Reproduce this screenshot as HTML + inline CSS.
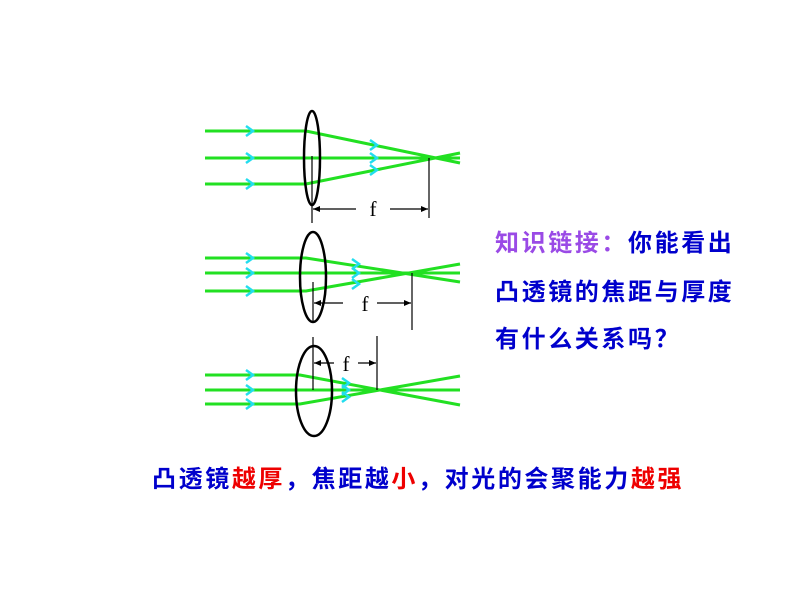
<!DOCTYPE html>
<html><head><meta charset="utf-8"><style>
body{margin:0;width:800px;height:600px;background:#fff;position:relative;overflow:hidden;font-family:"Liberation Sans","Noto Sans CJK SC",sans-serif}
.t{position:absolute;font-size:24px;font-weight:bold;letter-spacing:2.6px;color:#0000cc;white-space:nowrap;line-height:1}
.p{color:#9a4ae6}.r{color:#ee0000}
</style></head><body>
<svg width="800" height="600" style="position:absolute;left:0;top:0">
<defs>
<g id="ah"><path d="M-6,-5 L1,0 L-6,5" fill="none" stroke="#22ddee" stroke-width="2.5"/></g>
</defs>
<g stroke="#22e022" stroke-width="3" fill="none">
<path d="M205,131 L306,131 L460,163"/>
<path d="M205,158 L460,158"/>
<path d="M205,184 L306,184 L460,153"/>
<path d="M205,258 L306,258 L460,282"/>
<path d="M205,273 L460,273"/>
<path d="M205,291 L306,291 L460,264"/>
<path d="M205,375 L300,375 L460,405"/>
<path d="M205,390 L460,390"/>
<path d="M205,404 L300,404 L460,376"/>
</g>
<g>
<use href="#ah" x="252" y="131"/><use href="#ah" x="252" y="158"/><use href="#ah" x="252" y="184"/>
<use href="#ah" x="376" y="145"/><use href="#ah" x="376" y="158"/><use href="#ah" x="376" y="170"/>
<use href="#ah" x="252" y="258"/><use href="#ah" x="252" y="273"/><use href="#ah" x="252" y="291"/>
<use href="#ah" x="358" y="264"/><use href="#ah" x="358" y="273"/><use href="#ah" x="358" y="284"/>
<use href="#ah" x="252" y="375"/><use href="#ah" x="252" y="390"/><use href="#ah" x="252" y="404"/>
<use href="#ah" x="348" y="383"/><use href="#ah" x="348" y="390"/><use href="#ah" x="348" y="397"/>
</g>
<g fill="none" stroke="#000" stroke-width="2.5">
<ellipse cx="312" cy="158" rx="8" ry="47"/>
<ellipse cx="313" cy="277" rx="13" ry="45"/>
<ellipse cx="314" cy="391" rx="18" ry="45"/>
</g>
<g stroke="#000" stroke-width="1.2" fill="none">
<line x1="312" y1="156" x2="312" y2="223"/><line x1="429" y1="158" x2="429" y2="218"/>
<line x1="313" y1="282" x2="313" y2="323"/><line x1="412" y1="273" x2="412" y2="330"/>
<line x1="313" y1="337" x2="313" y2="390"/><line x1="377" y1="336" x2="377" y2="390"/>
<line x1="313" y1="209" x2="356" y2="209"/><line x1="390" y1="209" x2="428" y2="209"/>
<line x1="314" y1="303" x2="343" y2="303"/><line x1="377" y1="303" x2="411" y2="303"/>
<line x1="314" y1="363" x2="334" y2="363"/><line x1="358" y1="363" x2="376" y2="363"/>
</g>
<g fill="#000">
<path d="M313,209 l7,-3 v6z"/><path d="M428,209 l-7,-3 v6z"/>
<path d="M314,303 l7,-3 v6z"/><path d="M411,303 l-7,-3 v6z"/>
<path d="M314,363 l7,-3 v6z"/><path d="M376,363 l-7,-3 v6z"/>
</g>
<g font-family="Liberation Serif,serif" font-size="21" fill="#000" text-anchor="middle">
<text x="373" y="216">f</text><text x="365" y="311">f</text><text x="346" y="371">f</text>
</g>
</svg>
<div class="t" style="left:495px;top:232px"><span class="p">知识链接：</span>你能看出</div>
<div class="t" style="left:495px;top:281px">凸透镜的焦距与厚度</div>
<div class="t" style="left:495px;top:328px">有什么关系吗？</div>
<div class="t" style="left:152px;top:468px">凸透镜<span class="r">越厚</span>，焦距越<span class="r">小</span>，对光的会聚能力<span class="r">越强</span></div>
</body></html>
